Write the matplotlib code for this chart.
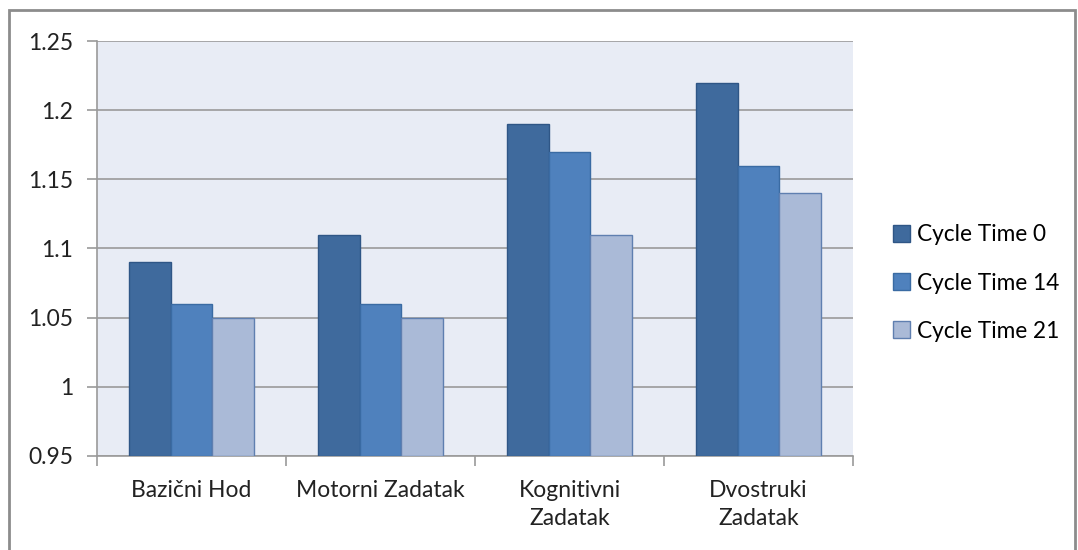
import numpy as np
from matplotlib import pyplot as plt
from matplotlib.patches import Rectangle

categories = ['Bazični Hod', 'Motorni Zadatak', 'Kognitivni\nZadatak', 'Dvostruki\nZadatak']
series = ['Cycle Time 0', 'Cycle Time 14', 'Cycle Time 21']
values_t0 = [1.09, 1.11, 1.19, 1.22]
values_t14 = [1.06, 1.06, 1.17, 1.16]
values_t21 = [1.05, 1.05, 1.11, 1.14]
y_ticks = [0.95, 1.0, 1.05, 1.1, 1.15, 1.2, 1.25]
y_tick_labels = ['0.95', '1', '1.05', '1.1', '1.15', '1.2', '1.25']

colors = ['#3F6A9D', '#4F81BD', '#AABAD7']
edges = ['#2F5686', '#3A6BA3', '#5F7FB0']

plt.rcParams['font.family'] = ['Lato', 'DejaVu Sans']
plt.rcParams['font.size'] = 16.5

fig = plt.figure(figsize=(10.78, 5.5), dpi=100)
ax = fig.add_axes([97 / 1078, 1 - 456 / 550, 756 / 1078, 415 / 550])
ax.set_facecolor('#E8ECF5')

x = np.arange(len(categories))
width = 0.22
for i, vals in enumerate([values_t0, values_t14, values_t21]):
    ax.bar(x + (i - 1) * width, np.array(vals) - 0.95, width, bottom=0.95,
           color=colors[i], edgecolor=edges[i], linewidth=1, label=series[i], zorder=3)

ax.set_xlim(-0.5, len(categories) - 0.5)
ax.set_ylim(0.95, 1.25)
ax.set_yticks(y_ticks)
ax.set_yticklabels(y_tick_labels, color='#222222')
ax.yaxis.grid(True, color='#9A9A9A', linewidth=1.2, zorder=1)
ax.set_axisbelow(True)

# category labels centered, tick marks at group boundaries
ax.set_xticks(x)
ax.set_xticklabels(categories, color='#222222', va='top', linespacing=1.45)
ax.tick_params(axis='x', length=0, pad=17)
ax.set_xticks(np.arange(len(categories) + 1) - 0.5, minor=True)
ax.tick_params(axis='x', which='minor', length=7, color='#9A9A9A', width=1.2)
ax.tick_params(axis='y', length=7, color='#9A9A9A', width=1.2, pad=10)

for side in ['top', 'right']:
    ax.spines[side].set_visible(False)
for side in ['left', 'bottom']:
    ax.spines[side].set_color('#9A9A9A')
    ax.spines[side].set_linewidth(1.2)

leg = fig.legend(loc='center left', bbox_to_anchor=(873 / 1078, 1 - 283 / 550),
                 frameon=False, fontsize=16.3, handlelength=0.75, handleheight=0.75,
                 handletextpad=0.3, labelspacing=1.2)

fig.patches.append(Rectangle((9 / 1078, -0.01), 1066 / 1078, 1 - 10 / 550 + 0.01,
                             transform=fig.transFigure, fill=False,
                             edgecolor='#8C8C8C', linewidth=2))

fig.savefig('out.png', dpi=100)
plt.close(fig)
